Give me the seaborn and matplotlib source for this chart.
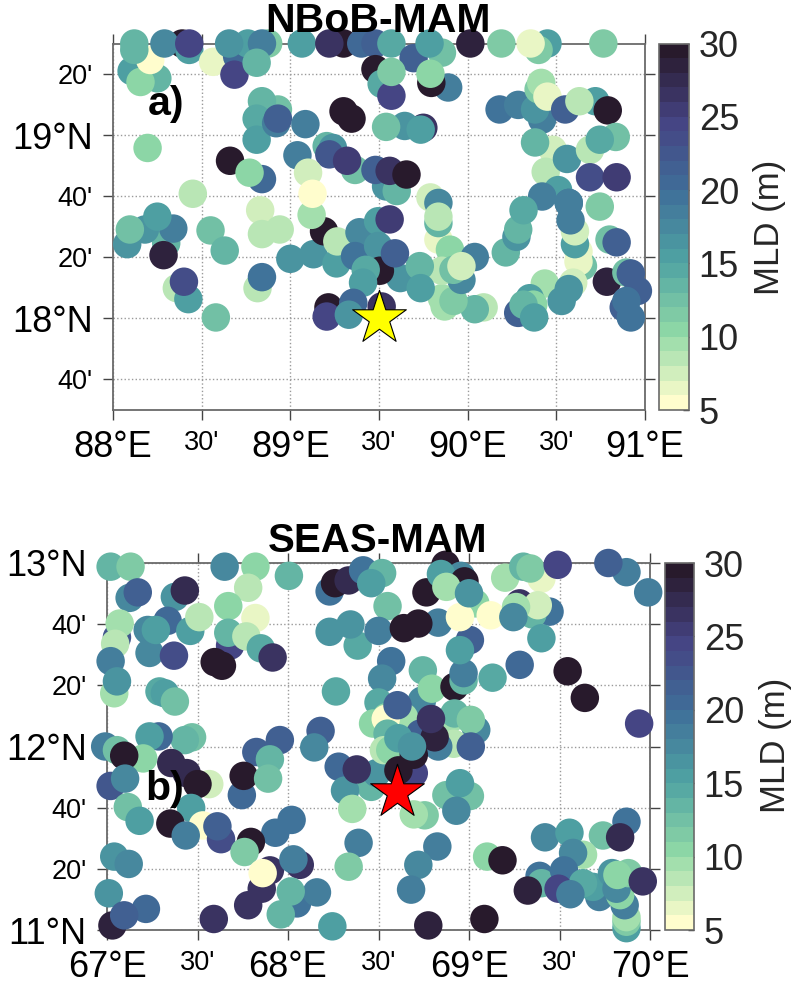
import numpy as np
import pandas as pd
import seaborn as sns
import matplotlib
matplotlib.use("Agg")
import matplotlib.pyplot as plt
from matplotlib.cm import ScalarMappable
from matplotlib.colors import ListedColormap, Normalize

# NBoB profiles, back to front
nbob_lon = [
    88.105, 88.25, 88.155, 88.21, 88.12, 88.12, 88.39, 88.43, 88.29, 88.43,
    88.565, 88.70, 88.685, 88.875, 88.76, 88.655, 88.84, 88.81,
    89.065, 89.30, 89.22, 89.40, 89.48, 89.48, 89.515, 89.57, 89.57,
    89.855, 89.695, 89.785, 89.57, 90.015, 90.19, 90.45, 90.40, 90.355, 90.765,
    89.89, 89.795, 89.79,
    90.18, 90.285, 90.42, 90.38, 90.40, 90.415, 90.45, 90.55, 90.72, 90.63, 90.79,
    90.48, 90.38, 90.44, 90.56, 90.69, 90.835, 90.745, 90.69, 90.84, 90.745,
    90.51, 90.42, 90.57, 90.65, 90.625, 90.625, 90.605, 90.605, 90.57, 90.58,
    90.215, 90.275, 90.285, 90.315, 90.80, 90.84,
    90.785, 90.895, 90.96, 90.92, 90.88, 90.895, 90.92,
    90.595, 90.435, 90.53, 90.57,
    90.285, 90.35, 90.37, 90.315, 90.375,
    90.09, 90.04, 89.855, 89.87, 89.92,
    89.835, 89.90, 90.04, 89.965, 89.855, 89.92, 89.965,
    89.62, 89.73, 89.735,
    89.79, 89.835, 89.835, 89.835,
    89.75, 89.645, 89.735,
    88.195, 88.66, 88.84, 88.77, 88.45,
    88.30, 88.08, 88.18, 88.34, 88.25, 88.095, 88.285,
    88.55, 88.63, 88.36, 88.425, 88.40, 88.58,
    88.83, 88.94, 88.84, 89.00, 89.13, 89.26, 88.815, 88.84,
    89.19, 89.12, 89.265, 89.39, 89.495, 89.56, 89.365, 89.495, 89.505, 89.59, 89.425,
    89.215, 89.205, 89.41, 89.355, 89.33, 89.515,
    88.93, 88.84, 88.81, 88.81, 88.92, 88.93, 89.085,
    89.30, 89.345, 89.54,
    89.205, 89.24, 89.22, 89.365, 89.32, 89.04, 89.10, 89.125,
    89.54, 89.60, 89.48, 89.56, 89.655,
]
nbob_lat = [
    19.35, 19.31, 19.29, 19.41, 19.465, 19.50, 19.50, 19.465, 19.50, 19.50,
    19.40, 19.43, 19.33, 19.50, 19.50, 19.50, 19.50, 19.395,
    19.50, 19.50, 19.50, 19.50, 19.50, 19.36, 19.28, 19.215, 19.50,
    19.45, 19.42, 19.50, 19.345, 19.50, 19.50, 19.50, 19.465, 19.50, 19.50,
    19.26, 19.285, 19.335,
    19.14, 19.165, 19.085, 19.14, 19.25, 19.285, 19.21, 19.14, 19.185, 19.185, 19.135,
    18.92, 18.96, 18.80, 18.87, 18.92, 18.99, 18.975, 18.77, 18.77, 18.61,
    18.70, 18.665, 18.63, 18.285, 18.365, 18.31, 18.405, 18.475, 18.63, 18.535,
    18.36, 18.445, 18.485, 18.59, 18.43, 18.415,
    18.20, 18.25, 18.15, 18.245, 18.06, 18.095, 18.005,
    18.195, 18.19, 18.095, 18.16,
    18.03, 18.11, 18.075, 18.075, 18.005,
    18.06, 18.05, 18.11, 18.065, 18.095,
    18.43, 18.375, 18.335, 18.21, 18.26, 18.265, 18.285,
    18.22, 18.285, 18.165,
    18.66, 18.63, 18.52, 18.555,
    19.04, 19.05, 19.03,
    18.93, 18.86, 18.76, 18.795, 18.68,
    18.41, 18.405, 18.485, 18.49, 18.555, 18.485, 18.345,
    18.48, 18.37, 18.165, 18.105, 18.20, 18.005,
    18.59, 18.485, 18.46, 18.325, 18.35, 18.30, 18.165, 18.225,
    18.475, 18.565, 18.42, 18.47, 18.53, 18.54, 18.34, 18.395, 18.26, 18.355, 18.265,
    18.06, 18.01, 18.195, 18.085, 18.02, 18.065,
    19.14, 19.185, 19.09, 18.975, 19.065, 19.09, 19.06,
    19.13, 19.09, 19.045,
    18.94, 18.93, 18.895, 18.81, 18.86, 18.89, 18.795, 18.68,
    18.72, 18.695, 18.81, 18.805, 18.785,
]
nbob_mld = [
    15, 13, 10, 5, 13, 13, 30, 15, 17, 24,
    6, 20, 24, 11, 15, 16, 18, 13,
    15, 29, 26, 20, 21, 30, 14, 24, 14,
    12, 21, 15, 11, 28, 11, 15, 11, 6, 11,
    18, 30, 10,
    19, 18, 18, 16, 11, 9, 6, 21, 15, 8, 29,
    7, 13, 8, 16, 8, 12, 14, 23, 25, 11,
    15, 18, 18, 12, 6, 6, 15, 7, 18, 18,
    13, 16, 13, 14, 12, 21,
    28, 12, 21, 21, 21, 19, 19,
    7, 9, 16, 16,
    21, 15, 10, 13, 15,
    8, 13, 9, 9, 11,
    6, 10, 18, 17, 8, 12, 7,
    16, 13, 15,
    7, 17, 13, 8,
    26, 16, 15,
    10, 30, 20, 10, 8,
    13, 16, 16, 18, 15, 12, 28,
    12, 13, 8, 15, 23, 12,
    7, 8, 8, 16, 16, 15, 8, 19,
    29, 9, 8, 17, 15, 25, 19, 16, 29, 21, 14,
    30, 24, 15, 20, 16, 26,
    12, 13, 14, 15, 18, 21, 18,
    29, 29, 12,
    13, 16, 22, 12, 25, 18, 7, 5,
    16, 13, 21, 26, 29,
]

# SEAS profiles, back to front
seas_lon = [
    67.02, 67.13, 67.125, 67.17, 67.375, 67.43, 67.65, 67.82, 68.005, 67.78,
    67.82, 67.67, 67.335, 67.46, 67.51, 67.055, 67.07, 67.045, 67.225, 67.235,
    67.27, 67.37, 67.02, 67.04, 67.055, 67.29, 67.32, 67.375,
    67.68, 67.67, 67.77, 67.85, 67.915, 67.595, 67.635,
    68.23, 68.26, 68.335, 68.415, 68.52, 68.46, 68.55, 68.23, 68.385, 68.345,
    68.50, 68.57, 68.52, 68.265, 68.50,
    68.18, 68.145, 67.955, 67.825, 67.90, 67.47, 67.43, 67.285, 67.235, 66.99,
    67.055, 67.20, 67.095,
    67.355, 67.44, 67.565, 67.50, 67.02, 67.10,
    67.115, 67.18, 67.465, 67.35, 67.53, 67.435, 67.63, 67.61,
    67.745, 67.755, 67.89,
    68.28, 68.46, 68.49, 68.315, 68.38, 68.355,
    68.02, 67.93, 67.795, 67.76, 68.39, 68.335,
    67.04, 67.12, 67.01, 67.215, 67.03, 67.095,
    67.855, 67.78, 67.90, 67.86, 67.59, 68.065, 68.03, 68.05, 67.96, 68.16, 68.015, 68.245,
    68.745, 68.74, 68.795, 68.92, 68.97, 68.97, 69.13, 69.005, 68.95,
    68.83, 68.765, 68.87, 68.955, 68.845, 68.975, 68.875, 69.035, 69.12, 68.95, 69.00,
    68.64, 68.72,
    69.20, 69.40, 69.30, 69.34, 69.49, 69.87, 69.77, 69.99,
    69.28, 69.445, 69.35, 69.38, 69.40, 69.26, 69.245,
    69.28, 69.545, 69.64, 69.94,
    68.545, 68.47, 68.64, 68.54, 68.55, 68.605, 68.73, 68.89, 68.92, 69.04, 68.915,
    69.01, 69.01, 68.83, 68.81, 68.79, 68.53, 68.565, 68.695, 68.695, 68.61, 68.61, 68.685,
    68.755, 68.695, 68.875, 69.005, 68.95, 68.93,
    68.825, 68.72, 68.68, 69.10, 69.185, 68.775, 69.085,
    69.42, 69.555, 69.74, 69.87, 69.835, 69.63, 69.575,
    69.39, 69.40, 69.525, 69.72, 69.685, 69.63, 69.325, 69.495, 69.56,
    69.87, 69.87, 69.87, 69.86, 69.79, 69.835, 69.815, 69.88, 69.82, 69.96,
]
seas_lat = [
    12.98, 12.98, 12.81, 12.84, 12.815, 12.85, 12.98, 12.98, 12.93, 12.865,
    12.70, 12.765, 12.685, 12.63, 12.705, 12.595, 12.67, 12.56, 12.635, 12.51,
    12.635, 12.495, 12.465, 12.29, 12.355, 12.30, 12.29, 12.245,
    12.55, 12.62, 12.60, 12.535, 12.485, 12.46, 12.44,
    12.845, 12.89, 12.905, 12.96, 12.945, 12.89, 12.765, 12.625, 12.55, 12.665,
    12.63, 12.465, 12.37, 12.30, 12.24,
    12.085, 11.995, 12.035, 11.97, 11.93, 12.05, 12.035, 12.055, 12.055, 12.00,
    11.98, 11.935, 11.95,
    11.91, 11.855, 11.795, 11.795, 11.785, 11.825,
    11.67, 11.595, 11.665, 11.58, 11.57, 11.515, 11.495, 11.565,
    11.735, 11.84, 11.825,
    11.89, 11.78, 11.855, 11.76, 11.875, 11.66,
    11.60, 11.53, 11.48, 11.425, 11.475, 11.345,
    11.40, 11.36, 11.20, 11.115, 11.025, 11.08,
    11.225, 11.135, 11.325, 11.31, 11.06, 11.355, 11.385, 11.145, 11.085, 11.205, 11.21, 11.02,
    12.415, 12.25, 12.315, 12.325, 12.36, 12.40, 12.375, 12.58, 12.525,
    12.675, 12.84, 12.99, 12.93, 12.94, 12.90, 12.87, 12.78, 12.715, 12.705, 12.835,
    12.645, 12.67,
    12.92, 12.915, 12.98, 12.97, 12.99, 12.95, 13.00, 12.84,
    12.78, 12.735, 12.72, 12.77, 12.59, 12.76, 12.705,
    12.445, 12.41, 12.265, 12.125,
    12.16, 12.125, 12.16, 12.15, 12.07, 12.225, 12.07, 12.145, 12.18, 12.09, 12.015,
    12.145, 12.00, 12.00, 12.05, 12.15, 11.98, 11.98, 11.855, 11.955, 11.87, 12.045, 12.00,
    11.625, 11.63, 11.735, 11.73, 11.80, 11.65,
    11.455, 11.355, 11.22, 11.40, 11.38, 11.025, 11.06,
    11.505, 11.53, 11.515, 11.59, 11.505, 11.41, 11.42,
    11.295, 11.255, 11.325, 11.18, 11.235, 11.255, 11.215, 11.225, 11.195,
    11.01, 11.045, 11.07, 11.135, 11.31, 11.19, 11.225, 11.31, 11.30, 11.265,
]
seas_mld = [
    13, 11, 17, 21, 16, 27, 17, 10, 13, 8,
    6, 10, 20, 15, 8, 22, 9, 8, 17, 17,
    15, 23, 18, 9, 16, 14, 15, 12,
    24, 13, 8, 14, 26, 30, 30,
    19, 30, 27, 19, 13, 15, 12, 16, 14, 16,
    18, 19, 17, 14, 14,
    21, 17, 21, 21, 13, 12, 13, 20, 15, 18,
    12, 10, 30,
    27, 27, 7, 29, 22, 17,
    12, 15, 15, 30, 5, 18, 23, 21,
    20, 29, 12,
    20, 13, 16, 16, 26, 9,
    19, 19, 29, 11, 18, 11,
    16, 17, 16, 20, 28, 21,
    26, 26, 26, 5, 26, 26, 18, 19, 13, 18, 13, 15,
    13, 17, 10, 30, 13, 18, 14, 21, 15,
    18, 30, 30, 17, 15, 29, 9, 10, 5, 5, 16,
    30, 30,
    9, 6, 13, 11, 24, 18, 21, 18,
    26, 19, 13, 7, 15, 9, 17,
    20, 30, 30, 24,
    10, 10, 9, 5, 13, 21, 21, 9, 13, 17, 8,
    11, 21, 18, 28, 26, 8, 10, 24, 29, 29, 15, 16,
    11, 9, 12, 12, 15, 17,
    18, 17, 18, 10, 30, 28, 30,
    17, 15, 12, 19, 27, 9, 17,
    19, 13, 19, 18, 15, 14, 28, 24, 18,
    15, 11, 9, 18, 16, 10, 17, 11, 10, 26,
]

nbob_xticks = [88, 88.5, 89, 89.5, 90, 90.5, 91]
nbob_xlabels = ["88°E", "30'", "89°E", "30'", "90°E", "30'", "91°E"]
nbob_yticks = [17 + 2 / 3, 18, 18 + 1 / 3, 18 + 2 / 3, 19, 19 + 1 / 3]
nbob_ylabels = ["40'", "18°N", "20'", "40'", "19°N", "20'"]
seas_xticks = [67, 67.5, 68, 68.5, 69, 69.5, 70]
seas_xlabels = ["67°E", "30'", "68°E", "30'", "69°E", "30'", "70°E"]
seas_yticks = [11, 11 + 1 / 3, 11 + 2 / 3, 12, 12 + 1 / 3, 12 + 2 / 3, 13]
seas_ylabels = ["11°N", "20'", "40'", "12°N", "20'", "40'", "13°N"]
cbar_ticks = [5, 10, 15, 20, 25, 30]

sns.set_style("white")
plt.rcParams["font.family"] = ["Liberation Sans", "DejaVu Sans"]

W, H = 793, 985
cmap = ListedColormap(sns.blend_palette(
    ["#FFFDCD", "#8FD8A6", "#4FA3A3", "#3F6F99", "#454383", "#281A2C"], n_colors=25))


def box(x0, y0, x1, y1):
    # pixel box to figure fractions
    return [x0 / W, 1 - y1 / H, (x1 - x0) / W, (y1 - y0) / H]


def panel(fig, rect, lon, lat, mld, xlim, ylim, xt, xl, yt, yl, star, star_col):
    ax = fig.add_axes(box(*rect))
    df = pd.DataFrame({"lon": lon, "lat": lat, "mld": mld})
    ax.grid(True, ls=":", color="#9a9a9a", lw=1.0)
    ax.set_axisbelow(True)
    sns.scatterplot(data=df, x="lon", y="lat", hue="mld", hue_norm=(5, 30), palette=cmap,
                    s=420, linewidth=0, edgecolor="none", legend=False, clip_on=False,
                    zorder=3, ax=ax)
    ax.scatter([star[0]], [star[1]], marker="*", s=1650, c=star_col, edgecolors="black",
               linewidths=0.8, clip_on=False, zorder=4)
    ax.set_xlim(*xlim)
    ax.set_ylim(*ylim)
    ax.set_xlabel("")
    ax.set_ylabel("")
    ax.set_xticks(xt)
    ax.set_xticklabels(xl)
    ax.set_yticks(yt)
    ax.set_yticklabels(yl)
    ax.tick_params(axis="both", which="major", direction="out", length=7.5, width=1,
                   color="#444444", pad=7, bottom=True, top=True, left=True, right=True)
    for t in ax.get_xticklabels() + ax.get_yticklabels():
        t.set_fontsize(19.5 if "'" in t.get_text() else 26)
        t.set_color("black")
    for s in ax.spines.values():
        s.set_color("#6a6a6a")
        s.set_linewidth(1.3)
    return ax


def add_cbar(fig, rect):
    cax = fig.add_axes(box(*rect))
    cb = fig.colorbar(ScalarMappable(norm=Normalize(5, 30), cmap=cmap), cax=cax)
    cb.set_ticks(cbar_ticks)
    cb.ax.tick_params(direction="in", length=4, width=1, color="#222222", pad=7,
                      labelsize=26, labelcolor="#262626")
    cb.outline.set_edgecolor("#6a6a6a")
    cb.outline.set_linewidth(1.2)


fig = plt.figure(figsize=(W / 100, H / 100), dpi=100)

panel(fig, (113, 43.5, 645, 410), nbob_lon, nbob_lat, nbob_mld, (88, 91), (17.5, 19.5),
      nbob_xticks, nbob_xlabels, nbob_yticks, nbob_ylabels, (89.5, 18.0), "yellow")
panel(fig, (107, 563, 650, 930), seas_lon, seas_lat, seas_mld, (67, 70), (11, 13),
      seas_xticks, seas_xlabels, seas_yticks, seas_ylabels, (68.6, 11.75), "red")
add_cbar(fig, (659, 43.5, 689, 410))
add_cbar(fig, (665, 563, 694, 930))

fig.text(378 / W, 1 - 32 / H, "NBoB-MAM", ha="center", va="baseline", fontsize=29.5,
         fontweight="bold", color="black", zorder=6)
fig.text(378 / W, 1 - 552 / H, "SEAS-MAM", ha="center", va="baseline", fontsize=29,
         fontweight="bold", color="black", zorder=6)
fig.text(148 / W, 1 - 115 / H, "a)", ha="left", va="baseline", fontsize=29.5,
         fontweight="bold", color="black", zorder=6)
fig.text(145 / W, 1 - 800 / H, "b)", ha="left", va="baseline", fontsize=29.5,
         fontweight="bold", color="black", zorder=6)
fig.text(769 / W, 1 - 227 / H, "MLD (m)", rotation=90, ha="center", va="center",
         fontsize=25, color="#262626")
fig.text(775 / W, 1 - 745 / H, "MLD (m)", rotation=90, ha="center", va="center",
         fontsize=25, color="#262626")

fig.savefig("out.png", dpi=100)
